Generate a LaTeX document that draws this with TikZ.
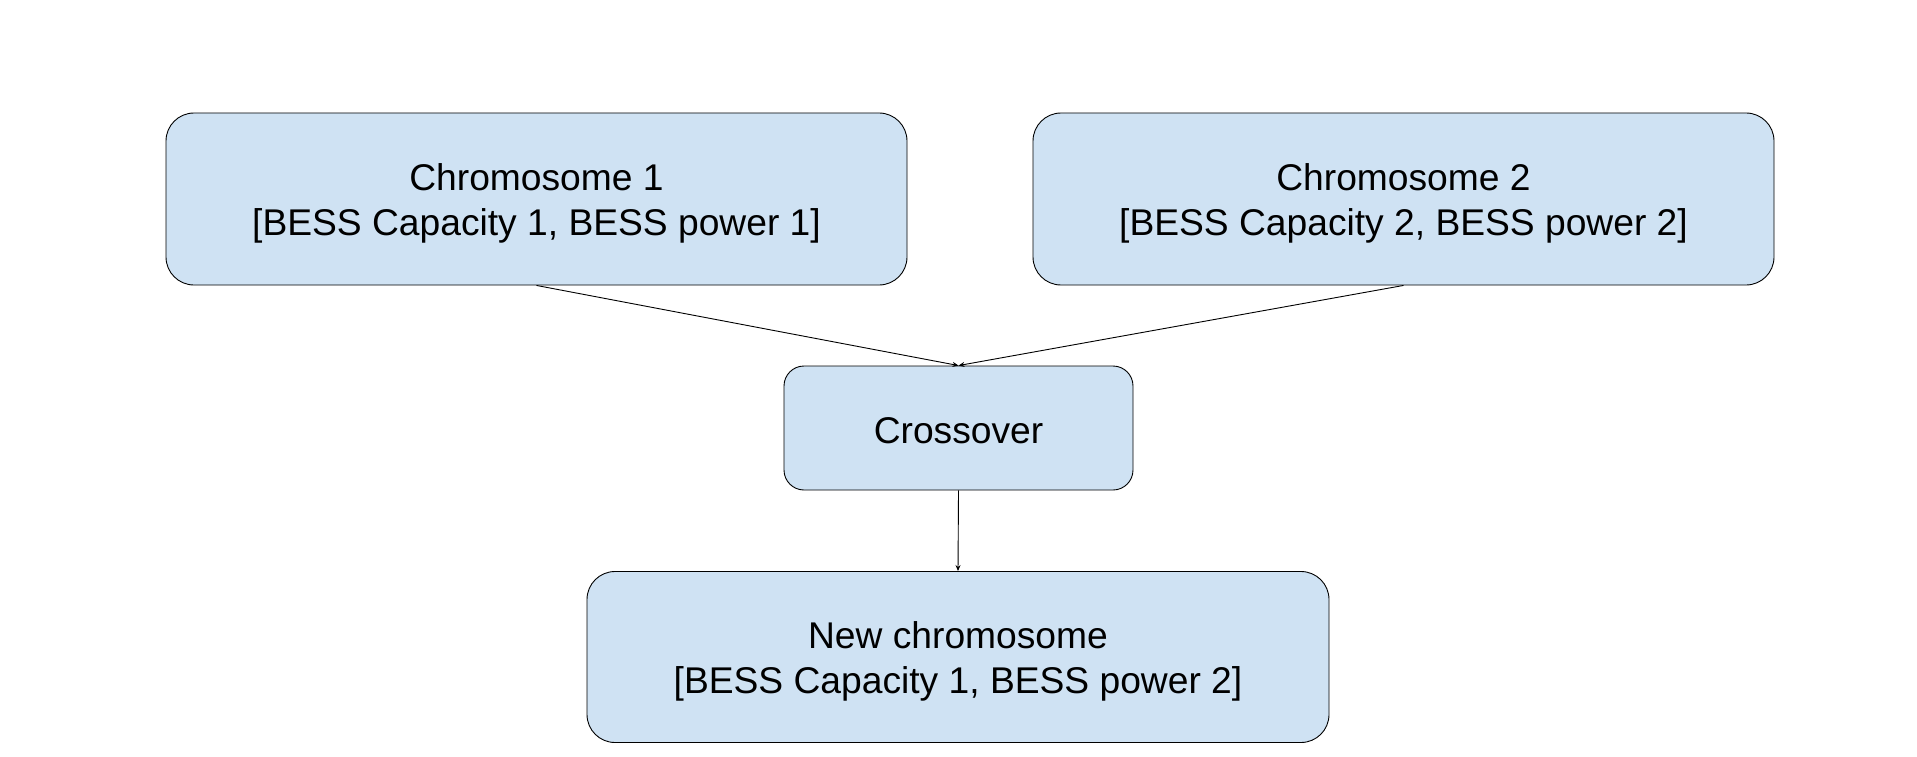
\documentclass[tikz,border=0pt]{standalone}
\usepackage{fontspec}
\setmainfont{Liberation Sans}
\usetikzlibrary{arrows.meta}
\definecolor{boxblue}{HTML}{CFE2F3}
\begin{document}
\begin{tikzpicture}[x=1pt,y=-1pt,
  box/.style={draw=black, line width=0.9pt, fill=boxblue, rounded corners=28pt, inner sep=0pt},
  txt/.style={align=center, font=\fontsize{37.2}{45}\selectfont, inner sep=0pt},
  conn/.style={draw=black, line width=0.9pt, -{Stealth[length=6pt,width=5pt]}}]
\useasboundingbox (0,0) rectangle (1917,757);
\node[box, minimum width=741pt, minimum height=172pt] (c1) at (536.5,199) {};
\node[box, minimum width=741pt, minimum height=172pt] (c2) at (1403.5,199) {};
\node[box, rounded corners=20pt, minimum width=349pt, minimum height=124pt] (x) at (958.5,428) {};
\node[box, minimum width=742pt, minimum height=171pt] (n) at (958,657) {};
\node[txt] (c1t) at ([yshift=-4pt]c1.center) {Chromosome 1\\{}[BESS Capacity 1, BESS power 1]};
\node[txt] (c2t) at ([yshift=-4pt]c2.center) {Chromosome 2\\{}[BESS Capacity 2, BESS power 2]};
\node[txt] (xt) at ([yshift=-2.5pt]x.center) {Crossover};
\node[txt] (nt) at ([yshift=-4pt]n.center) {New chromosome\\{}[BESS Capacity 1, BESS power 2]};
\draw[conn] (c1.south) -- (x.north);
\draw[conn] (c2.south) -- (x.north);
\draw[conn] (x.south) -- (n.north);
\end{tikzpicture}
\end{document}
